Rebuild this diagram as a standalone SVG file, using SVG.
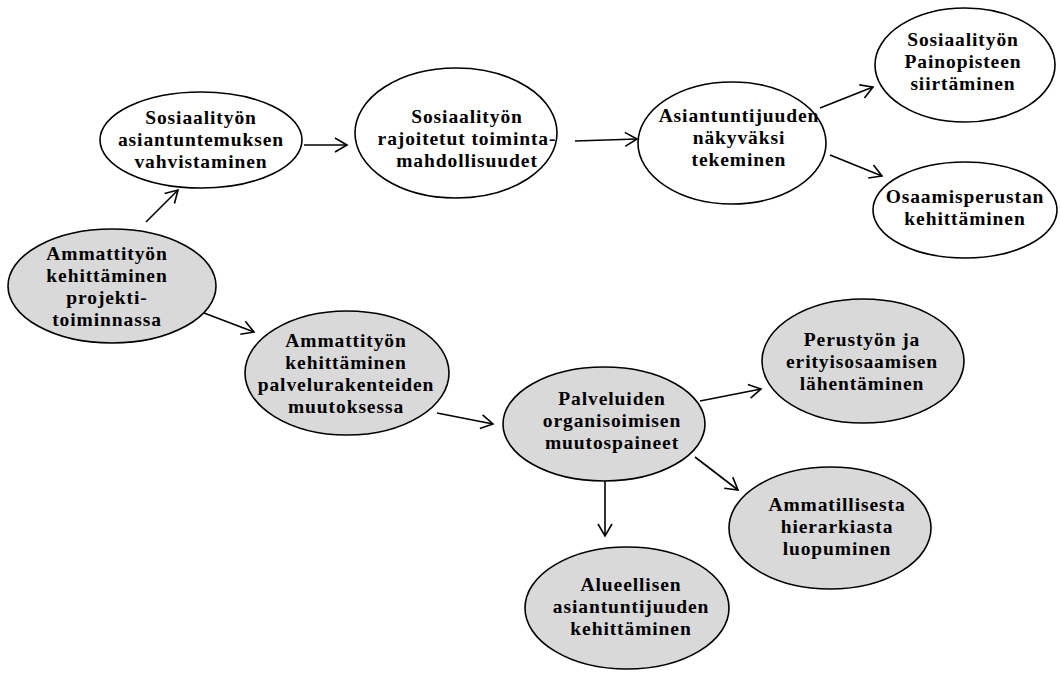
<svg xmlns="http://www.w3.org/2000/svg" width="1061" height="680" viewBox="0 0 1061 680">
<style>
.n{stroke:#000;stroke-width:1.6}
.w{fill:#fff}
.g{fill:#d9d9d9}
text{font-family:"Liberation Serif","Times New Roman",serif;font-weight:bold;font-size:19.5px;fill:#000;text-anchor:middle;letter-spacing:0.9px}
.c line{stroke:#000;stroke-width:1.6;fill:none;marker-end:url(#a)}
</style>
<defs>
<marker id="a" markerUnits="userSpaceOnUse" markerWidth="16" markerHeight="18" refX="14" refY="8" orient="auto" viewBox="0 0 16 16">
<path d="M2,1 L14,8 L2,15" fill="none" stroke="#000" stroke-width="1.6"/>
</marker>
</defs>
<rect width="1061" height="680" fill="#fff"/>
<g class="c" id="connectors">
<line x1="146" y1="222" x2="178" y2="190"/>
<line x1="304" y1="145" x2="347" y2="145"/>
<line x1="575" y1="141" x2="637" y2="139"/>
<line x1="820" y1="108" x2="873" y2="87"/>
<line x1="830" y1="155" x2="882" y2="176"/>
<line x1="204" y1="313" x2="254" y2="332"/>
<line x1="437" y1="413" x2="493" y2="424"/>
<line x1="700" y1="401" x2="761" y2="389"/>
<line x1="695" y1="457" x2="738" y2="490"/>
<line x1="605" y1="481" x2="605" y2="536"/>
</g>
<g id="n1"><ellipse class="n w" cx="201" cy="140" rx="101" ry="48"/>
<text><tspan x="201" y="124">Sosiaalityön</tspan><tspan x="201" y="146">asiantuntemuksen</tspan><tspan x="201" y="168">vahvistaminen</tspan></text></g>
<g id="n3"><ellipse class="n w" cx="456" cy="133" rx="101" ry="65"/>
<text><tspan x="467" y="123">Sosiaalityön</tspan><tspan x="467" y="145">rajoitetut toiminta-</tspan><tspan x="467" y="167">mahdollisuudet</tspan></text></g>
<g id="n4"><ellipse class="n w" cx="732" cy="143" rx="94" ry="61"/>
<text><tspan x="739" y="122">Asiantuntijuuden</tspan><tspan x="739" y="144">näkyväksi</tspan><tspan x="739" y="166">tekeminen</tspan></text></g>
<g id="n5"><ellipse class="n w" cx="965" cy="65" rx="90" ry="57"/>
<text><tspan x="963" y="46">Sosiaalityön</tspan><tspan x="963" y="68">Painopisteen</tspan><tspan x="963" y="90">siirtäminen</tspan></text></g>
<g id="n6"><ellipse class="n w" cx="965" cy="210" rx="92" ry="48"/>
<text><tspan x="965" y="203">Osaamisperustan</tspan><tspan x="965" y="225">kehittäminen</tspan></text></g>
<g id="n2"><ellipse class="n g" cx="112" cy="286" rx="104" ry="57"/>
<text><tspan x="107" y="260">Ammattityön</tspan><tspan x="107" y="282">kehittäminen</tspan><tspan x="107" y="304">projekti-</tspan><tspan x="107" y="326">toiminnassa</tspan></text></g>
<g id="n7"><ellipse class="n g" cx="347" cy="373" rx="102" ry="62"/>
<text><tspan x="346" y="347">Ammattityön</tspan><tspan x="346" y="369">kehittäminen</tspan><tspan x="346" y="391">palvelurakenteiden</tspan><tspan x="346" y="413">muutoksessa</tspan></text></g>
<g id="n8"><ellipse class="n g" cx="604" cy="424" rx="101" ry="57"/>
<text><tspan x="612" y="405">Palveluiden</tspan><tspan x="612" y="427">organisoimisen</tspan><tspan x="612" y="449">muutospaineet</tspan></text></g>
<g id="n9"><ellipse class="n g" cx="863" cy="361" rx="101" ry="62"/>
<text><tspan x="862" y="346">Perustyön ja</tspan><tspan x="862" y="368">erityisosaamisen</tspan><tspan x="862" y="390">lähentäminen</tspan></text></g>
<g id="n10"><ellipse class="n g" cx="830" cy="528" rx="101" ry="61"/>
<text><tspan x="837" y="511">Ammatillisesta</tspan><tspan x="837" y="533">hierarkiasta</tspan><tspan x="837" y="555">luopuminen</tspan></text></g>
<g id="n11"><ellipse class="n g" cx="627" cy="608" rx="102" ry="61"/>
<text><tspan x="631" y="591">Alueellisen</tspan><tspan x="631" y="613">asiantuntijuuden</tspan><tspan x="631" y="635">kehittäminen</tspan></text></g>
</svg>
